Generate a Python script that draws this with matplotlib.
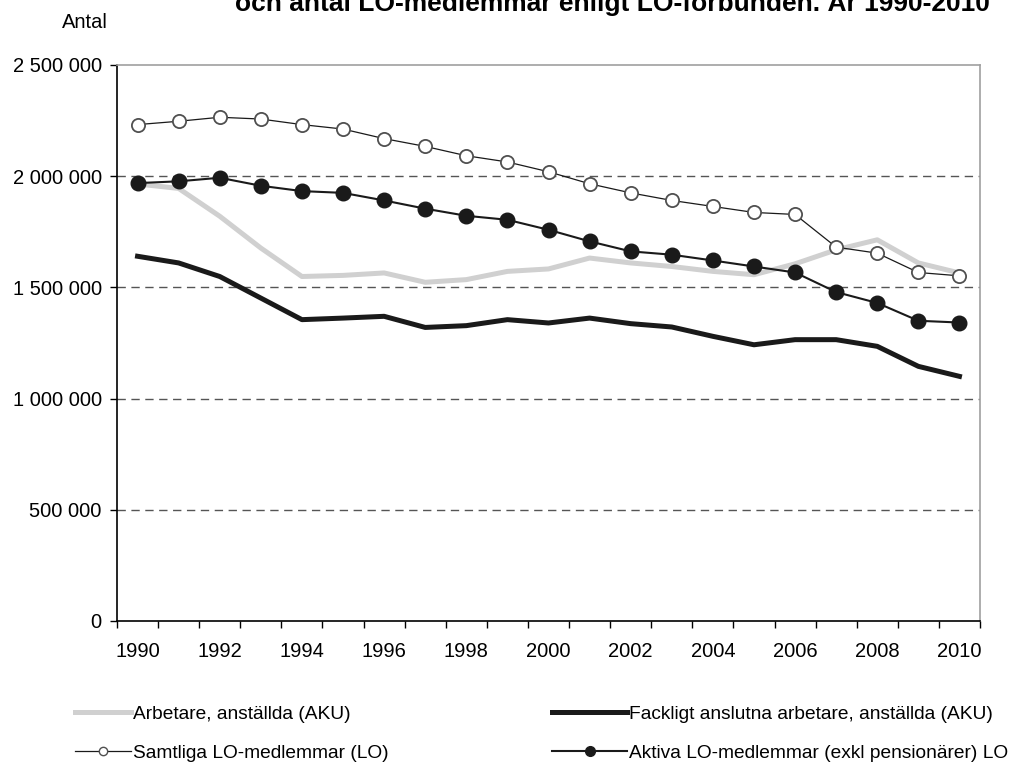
import numpy as np
import matplotlib
matplotlib.use("Agg")
import matplotlib.pyplot as plt
from matplotlib.lines import Line2D
from matplotlib.ticker import FuncFormatter

plt.rcParams['font.family'] = ['Liberation Sans', 'DejaVu Sans']

# Data (läst ur bilden)
years = list(range(1990, 2011))
arbetare = [1965000, 1945000, 1820000, 1677000, 1549000, 1554000, 1565000, 1523000, 1535000,
            1572000, 1583000, 1632000, 1610000, 1594000, 1572000, 1557000, 1606000, 1669000,
            1714000, 1610000, 1565000]
fackligt = [1640000, 1610000, 1549000, 1452000, 1355000, 1362000, 1370000, 1320000, 1328000,
            1355000, 1340000, 1362000, 1337000, 1322000, 1280000, 1242000, 1265000, 1265000,
            1235000, 1145000, 1100000]
samtliga = [2232000, 2247000, 2265000, 2257000, 2232000, 2212000, 2169000, 2134000, 2092000,
            2064000, 2020000, 1966000, 1925000, 1891000, 1864000, 1837000, 1828000, 1681000,
            1654000, 1567000, 1552000]
aktiva = [1969000, 1977000, 1993000, 1957000, 1933000, 1925000, 1891000, 1854000, 1822000,
          1804000, 1759000, 1707000, 1662000, 1647000, 1621000, 1594000, 1567000, 1479000,
          1430000, 1350000, 1342000]

namn = ["Arbetare, anställda (AKU)",
        "Fackligt anslutna arbetare, anställda (AKU)",
        "Samtliga LO-medlemmar (LO)",
        "Aktiva LO-medlemmar (exkl pensionärer) LO"]

GRA = "#d0d0d0"
SVART = "#1a1a1a"
FS = 14.5

fig = plt.figure(figsize=(10.3, 7.65), dpi=100)
ax = fig.add_axes([117/1030, 1 - 621/765, (980 - 117)/1030, (621 - 65)/765])

x = np.arange(len(years))
ax.plot(x, arbetare, color=GRA, lw=3.6, solid_joinstyle='round', zorder=3)
ax.plot(x, fackligt, color=SVART, lw=3.6, solid_joinstyle='round', zorder=4)
ax.plot(x, samtliga, color=SVART, lw=0.9, marker='o', ms=9.5, mfc='white',
        mec='#505050', mew=1.3, zorder=5)
ax.plot(x, aktiva, color=SVART, lw=1.5, marker='o', ms=10.5, mfc=SVART,
        mec=SVART, zorder=6)

# Axlar
ax.set_xlim(-0.5, len(years) - 0.5)
ax.set_ylim(0, 2500000)
ax.set_xticks(x[::2])
ax.set_xticklabels([str(y) for y in years[::2]])
ax.set_xticks(np.arange(-0.5, len(years)), minor=True)
ax.tick_params(axis='x', which='major', length=0, pad=15, labelsize=FS)
ax.tick_params(axis='x', which='minor', length=5, width=1, direction='out')
ax.set_yticks(np.arange(0, 2500001, 500000))
ax.yaxis.set_major_formatter(FuncFormatter(lambda v, p: f"{int(v):,}".replace(",", " ")))
ax.tick_params(axis='y', length=5, width=1, direction='out', pad=6, labelsize=FS)

for v in [500000, 1000000, 1500000, 2000000]:
    ax.axhline(v, color='#555555', lw=1, ls=(0, (6, 4)), zorder=1)

ax.spines['left'].set_color('black')
ax.spines['bottom'].set_color('black')
ax.spines['top'].set_color('#a0a0a0')
ax.spines['right'].set_color('#a0a0a0')
for s in ax.spines.values():
    s.set_linewidth(1.2)

fig.text(62/1030, 1 - 22/765, "Antal", fontsize=FS, va='center', ha='left')
fig.text(990/1030, 1 - 11/765, "och antal LO-medlemmar enligt LO-förbunden. År 1990-2010",
         fontsize=19, fontweight='bold', ha='right', va='baseline')

# Legend
LFS = 13.8
h1 = [Line2D([], [], color=GRA, lw=3.6),
      Line2D([], [], color=SVART, lw=0.9, marker='o', ms=6, mfc='white', mec='#505050')]
h2 = [Line2D([], [], color=SVART, lw=3.6),
      Line2D([], [], color=SVART, lw=1.5, marker='o', ms=7, mfc=SVART, mec=SVART)]
fig.legend(h1, [namn[0], namn[2]], loc='upper left', bbox_to_anchor=(58/1030, 1 - 688/765),
           frameon=False, fontsize=LFS, handlelength=2.9, handletextpad=0.1,
           labelspacing=1.15)
fig.legend(h2, [namn[1], namn[3]], loc='upper left', bbox_to_anchor=(535/1030, 1 - 688/765),
           frameon=False, fontsize=LFS, handlelength=3.9, handletextpad=0.1,
           labelspacing=1.15)

fig.savefig("out.png", dpi=100)
